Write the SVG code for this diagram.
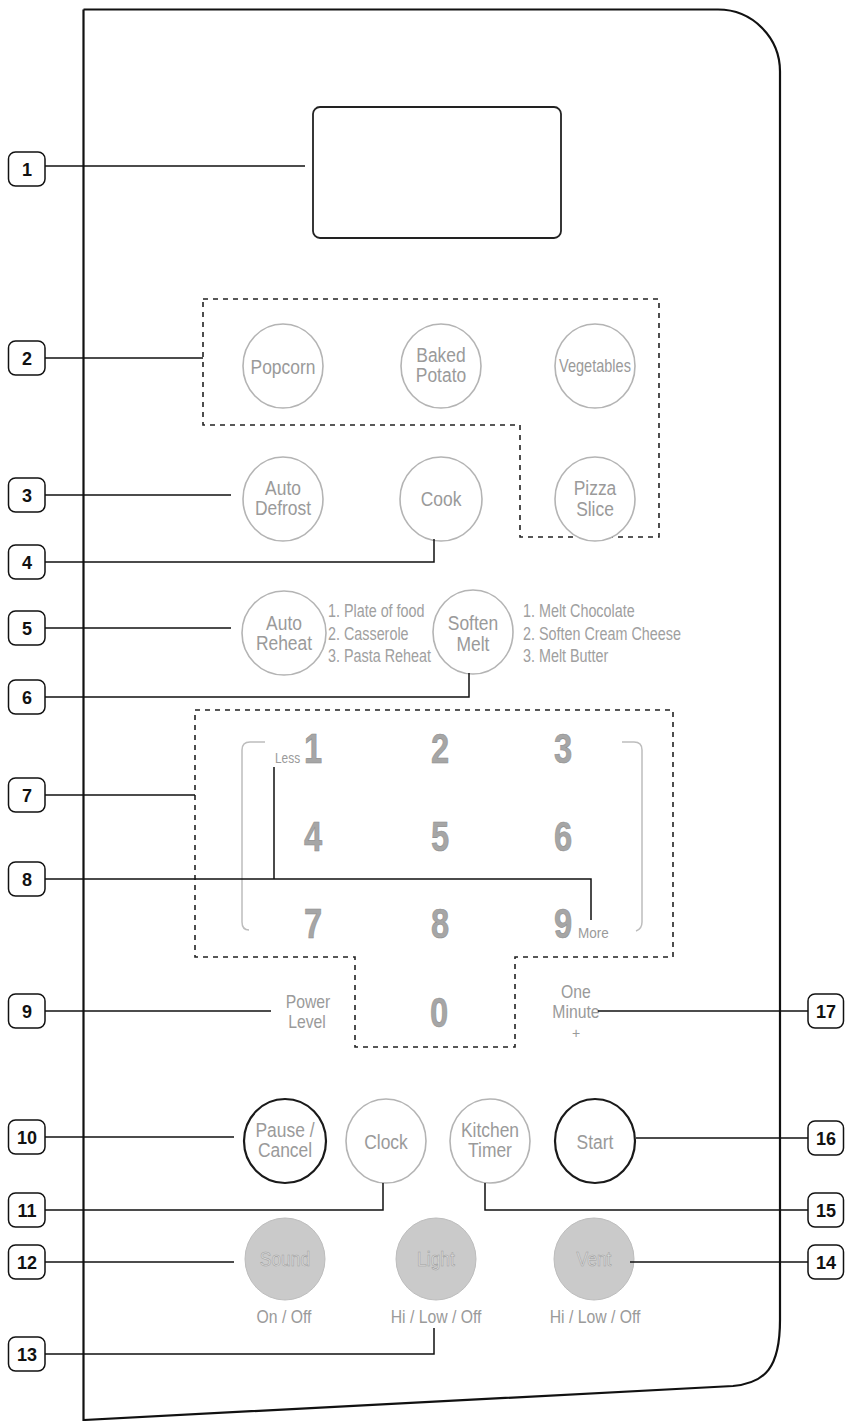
<svg xmlns="http://www.w3.org/2000/svg" width="845" height="1421" viewBox="0 0 845 1421">
<defs>
<style>
text{font-family:"Liberation Sans",Arial,sans-serif}
.panel{fill:none;stroke:#111;stroke-width:2.2}
.disp{fill:#fff;stroke:#222;stroke-width:1.8}
.dash{fill:none;stroke:#222;stroke-width:1.6;stroke-dasharray:5 5}
.btn{fill:#fff;stroke:#b4b4b4;stroke-width:1.6}
.btnd{fill:#fff;stroke:#1a1a1a;stroke-width:2.2}
.btnf{fill:#cacaca;stroke:#bdbdbd;stroke-width:1}
.brk{fill:none;stroke:#bdbdbd;stroke-width:1.5}
.conn path{fill:none;stroke:#111;stroke-width:1.5}
.lbox{fill:#fff;stroke:#111;stroke-width:1.5}
.ltx{font-size:18px;font-weight:bold;fill:#111;text-anchor:middle}
.bt{font-size:21px;fill:#9a9a9a;text-anchor:middle}
.bts{font-size:17.5px;fill:#9a9a9a;text-anchor:middle}
.mt{font-size:17.5px;fill:#a0a0a0}
.dg{font-size:43px;font-weight:bold;fill:#a6a6a6;stroke:#8c8c8c;stroke-width:0.6;text-anchor:middle}
.sm{font-size:14px;fill:#9a9a9a}
.ft{font-size:21px;fill:#dcdcdc;stroke:#a0a0a0;stroke-width:0.6;text-anchor:middle}
.ut{font-size:19px;fill:#9a9a9a;text-anchor:middle}
</style>
</defs>
<rect width="845" height="1421" fill="#fff"/>

<g id="panel">
<path class="panel" d="M83.5,9.5 H718 A62,62 0 0 1 780,71.5 V1320 C780,1368 765,1383 733,1386 L83.5,1420 V9.5"/>
</g>

<g id="display"><rect class="disp" x="313" y="107" width="248" height="131" rx="7"/></g>

<g id="group-2"><path class="dash" d="M203,299 H659 V537 H520 V425 H203 Z"/></g>
<g id="group-7"><path class="dash" d="M195,710 H673 V957 H515 V1047 H355 V957 H195 Z"/></g>

<g id="btn-popcorn"><ellipse class="btn" cx="283" cy="366" rx="40" ry="42"/><text class="bt" transform="matrix(.83 0 0 1 283 373.5)">Popcorn</text></g>
<g id="btn-baked-potato"><ellipse class="btn" cx="441" cy="366" rx="40" ry="42"/><text class="bt" transform="matrix(.83 0 0 1 441 362)">Baked</text><text class="bt" transform="matrix(.83 0 0 1 441 382)">Potato</text></g>
<g id="btn-vegetables"><ellipse class="btn" cx="595" cy="366" rx="40" ry="42"/><text class="bts" transform="matrix(.83 0 0 1 595 372)">Vegetables</text></g>

<g id="btn-auto-defrost"><ellipse class="btn" cx="283" cy="499" rx="40" ry="42"/><text class="bt" transform="matrix(.83 0 0 1 283 495)">Auto</text><text class="bt" transform="matrix(.83 0 0 1 283 515)">Defrost</text></g>
<g id="btn-cook"><ellipse class="btn" cx="441" cy="499" rx="41" ry="42"/><text class="bt" transform="matrix(.83 0 0 1 441 506)">Cook</text></g>
<g id="btn-pizza"><ellipse class="btn" cx="595" cy="499" rx="40" ry="42"/><text class="bt" transform="matrix(.83 0 0 1 595 495)">Pizza</text><text class="bt" transform="matrix(.83 0 0 1 595 516)">Slice</text></g>

<g id="btn-auto-reheat"><ellipse class="btn" cx="284" cy="633" rx="42" ry="42"/><text class="bt" transform="matrix(.83 0 0 1 284 630)">Auto</text><text class="bt" transform="matrix(.83 0 0 1 284 650)">Reheat</text>
<text class="mt" transform="matrix(.82 0 0 1 328 617)">1. Plate of food</text>
<text class="mt" transform="matrix(.82 0 0 1 328 639.5)">2. Casserole</text>
<text class="mt" transform="matrix(.82 0 0 1 328 662)">3. Pasta Reheat</text></g>
<g id="btn-soften-melt"><ellipse class="btn" cx="473" cy="632" rx="40" ry="42"/><text class="bt" transform="matrix(.83 0 0 1 473 630)">Soften</text><text class="bt" transform="matrix(.83 0 0 1 473 651)">Melt</text>
<text class="mt" transform="matrix(.82 0 0 1 523 617)">1. Melt Chocolate</text>
<text class="mt" transform="matrix(.82 0 0 1 523 639.5)">2. Soften Cream Cheese</text>
<text class="mt" transform="matrix(.82 0 0 1 523 662)">3. Melt Butter</text></g>

<g id="keypad">
<path class="brk" d="M265,742 H250 Q242,742 242,750 V922 Q242,930 249,930"/>
<path class="brk" d="M622,742 H634 Q642,742 642,750 V922 Q642,929 636,931"/>
<text class="dg" transform="matrix(.76 0 0 1 313 763)">1</text>
<text class="dg" transform="matrix(.76 0 0 1 440 763)">2</text>
<text class="dg" transform="matrix(.76 0 0 1 563 763)">3</text>
<text class="dg" transform="matrix(.76 0 0 1 313 851)">4</text>
<text class="dg" transform="matrix(.76 0 0 1 440 851)">5</text>
<text class="dg" transform="matrix(.76 0 0 1 563 851)">6</text>
<text class="dg" transform="matrix(.76 0 0 1 313 938)">7</text>
<text class="dg" transform="matrix(.76 0 0 1 440 938)">8</text>
<text class="dg" transform="matrix(.76 0 0 1 563 938)">9</text>
<text class="dg" transform="matrix(.76 0 0 1 439 1027)">0</text>
<text class="sm" transform="matrix(.85 0 0 1 275 763)">Less</text>
<text class="sm" style="font-size:15px" transform="matrix(.9 0 0 1 578 938)">More</text>
</g>

<g id="power-level"><text class="ut" transform="matrix(.83 0 0 1 308 1008)">Power</text><text class="ut" transform="matrix(.83 0 0 1 307 1028)">Level</text></g>
<g id="one-minute"><text class="ut" transform="matrix(.83 0 0 1 576 998)">One</text><text class="ut" transform="matrix(.83 0 0 1 576 1018)">Minute</text><text class="sm" text-anchor="middle" transform="translate(576 1038)">+</text></g>

<g id="btn-pause"><ellipse class="btnd" cx="285" cy="1141" rx="41" ry="42"/><text class="bt" transform="matrix(.83 0 0 1 285 1137)">Pause /</text><text class="bt" transform="matrix(.83 0 0 1 285 1157)">Cancel</text></g>
<g id="btn-clock"><ellipse class="btn" cx="386" cy="1141" rx="40" ry="42"/><text class="bt" transform="matrix(.83 0 0 1 386 1149)">Clock</text></g>
<g id="btn-kitchen-timer"><ellipse class="btn" cx="490" cy="1141" rx="40" ry="42"/><text class="bt" transform="matrix(.83 0 0 1 490 1137)">Kitchen</text><text class="bt" transform="matrix(.83 0 0 1 490 1157)">Timer</text></g>
<g id="btn-start"><ellipse class="btnd" cx="595" cy="1141" rx="40" ry="42"/><text class="bt" transform="matrix(.83 0 0 1 595 1149)">Start</text></g>

<g id="btn-sound"><ellipse class="btnf" cx="285" cy="1259" rx="40" ry="41"/><text class="ft" transform="matrix(.83 0 0 1 285 1266)">Sound</text><text class="ut" transform="matrix(.83 0 0 1 284 1323)">On / Off</text></g>
<g id="btn-light"><ellipse class="btnf" cx="436" cy="1259" rx="40" ry="41"/><text class="ft" transform="matrix(.83 0 0 1 436 1266)">Light</text><text class="ut" transform="matrix(.83 0 0 1 436 1323)">Hi / Low / Off</text></g>
<g id="btn-vent"><ellipse class="btnf" cx="594" cy="1259" rx="40" ry="41"/><text class="ft" transform="matrix(.83 0 0 1 594 1266)">Vent</text><text class="ut" transform="matrix(.83 0 0 1 595 1323)">Hi / Low / Off</text></g>

<g id="connectors" class="conn">
<path d="M45,166 H305"/>
<path d="M45,358 H203"/>
<path d="M45,495 H231"/>
<path d="M45,562 H434 V539"/>
<path d="M45,628 H231"/>
<path d="M45,697 H469 V673"/>
<path d="M45,795 H195"/>
<path d="M45,879 H591 V920 M274,879 V767"/>
<path d="M45,1011 H271"/>
<path d="M45,1137 H234"/>
<path d="M45,1210 H383 V1183"/>
<path d="M45,1262 H234"/>
<path d="M45,1354 H434 V1328"/>
<path d="M598,1011 H808"/>
<path d="M636,1138 H808"/>
<path d="M485,1183 V1210 H808"/>
<path d="M630,1262 H808"/>
</g>

<g id="label-1"><rect class="lbox" x="8.5" y="152" width="36.5" height="34" rx="7"/><text class="ltx" x="27" y="175.5">1</text></g>
<g id="label-2"><rect class="lbox" x="8.5" y="341" width="36.5" height="34" rx="7"/><text class="ltx" x="27" y="364.5">2</text></g>
<g id="label-3"><rect class="lbox" x="8.5" y="478" width="36.5" height="34" rx="7"/><text class="ltx" x="27" y="501.5">3</text></g>
<g id="label-4"><rect class="lbox" x="8.5" y="545" width="36.5" height="34" rx="7"/><text class="ltx" x="27" y="568.5">4</text></g>
<g id="label-5"><rect class="lbox" x="8.5" y="611" width="36.5" height="34" rx="7"/><text class="ltx" x="27" y="634.5">5</text></g>
<g id="label-6"><rect class="lbox" x="8.5" y="680" width="36.5" height="34" rx="7"/><text class="ltx" x="27" y="703.5">6</text></g>
<g id="label-7"><rect class="lbox" x="8.5" y="778" width="36.5" height="34" rx="7"/><text class="ltx" x="27" y="801.5">7</text></g>
<g id="label-8"><rect class="lbox" x="8.5" y="862" width="36.5" height="34" rx="7"/><text class="ltx" x="27" y="885.5">8</text></g>
<g id="label-9"><rect class="lbox" x="8.5" y="994" width="36.5" height="34" rx="7"/><text class="ltx" x="27" y="1017.5">9</text></g>
<g id="label-10"><rect class="lbox" x="8.5" y="1120" width="36.5" height="34" rx="7"/><text class="ltx" x="27" y="1143.5">10</text></g>
<g id="label-11"><rect class="lbox" x="8.5" y="1193" width="36.5" height="34" rx="7"/><text class="ltx" x="27" y="1216.5">11</text></g>
<g id="label-12"><rect class="lbox" x="8.5" y="1245" width="36.5" height="34" rx="7"/><text class="ltx" x="27" y="1268.5">12</text></g>
<g id="label-13"><rect class="lbox" x="8.5" y="1337" width="36.5" height="34" rx="7"/><text class="ltx" x="27" y="1360.5">13</text></g>
<g id="label-17"><rect class="lbox" x="808" y="994" width="35.5" height="34" rx="7"/><text class="ltx" x="826" y="1017.5">17</text></g>
<g id="label-16"><rect class="lbox" x="808" y="1121" width="35.5" height="34" rx="7"/><text class="ltx" x="826" y="1144.5">16</text></g>
<g id="label-15"><rect class="lbox" x="808" y="1193" width="35.5" height="34" rx="7"/><text class="ltx" x="826" y="1216.5">15</text></g>
<g id="label-14"><rect class="lbox" x="808" y="1245" width="35.5" height="34" rx="7"/><text class="ltx" x="826" y="1268.5">14</text></g>
</svg>
